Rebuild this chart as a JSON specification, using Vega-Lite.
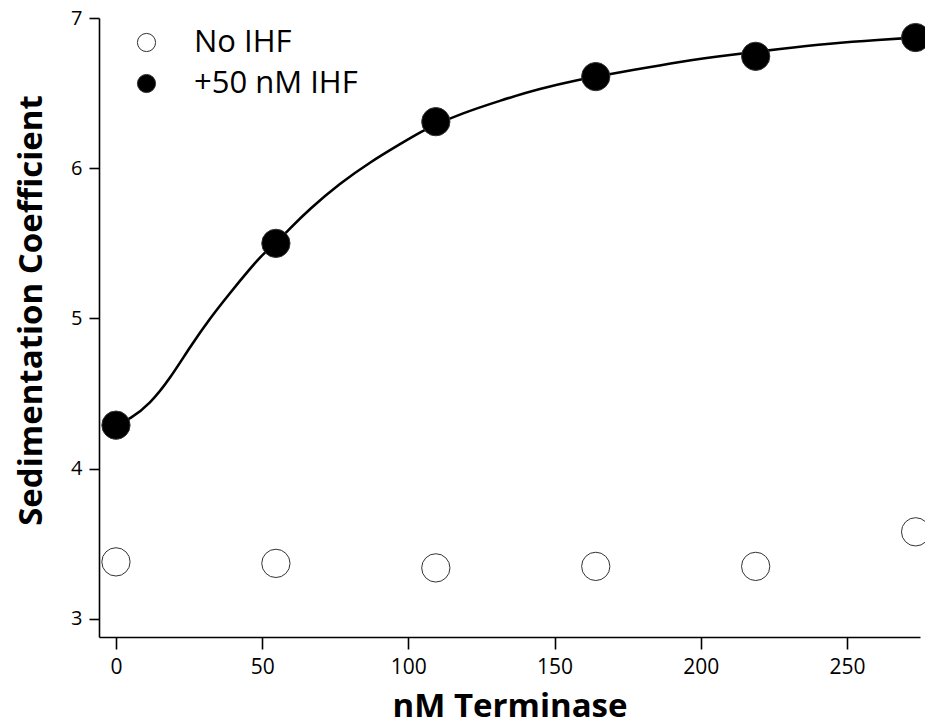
{
  "$schema": "https://vega.github.io/schema/vega-lite/v6.json",
  "autosize": {"type": "none"},
  "padding": {"left": 99, "top": 18, "right": 5, "bottom": 90},
  "width": 821,
  "height": 619,
  "background": "white",
  "config": {
    "view": {"stroke": null},
    "font": "Open Sans",
    "axis": {
      "grid": false,
      "domainColor": "black",
      "domainWidth": 1.6,
      "tickColor": "black",
      "tickWidth": 1.6,
      "tickSize": 12,
      "labelFont": "Open Sans",
      "labelFontSize": 20,
      "labelColor": "black",
      "titleFont": "Open Sans",
      "titleFontWeight": "bold",
      "titleFontSize": 33,
      "titleColor": "black"
    }
  },
  "datasets": {
    "points": [
      {"terminase": 0, "s": 3.38, "series": "No IHF"},
      {"terminase": 54.7, "s": 3.37, "series": "No IHF"},
      {"terminase": 109.4, "s": 3.34, "series": "No IHF"},
      {"terminase": 164.1, "s": 3.35, "series": "No IHF"},
      {"terminase": 218.8, "s": 3.35, "series": "No IHF"},
      {"terminase": 273.5, "s": 3.58, "series": "No IHF"},
      {"terminase": 0, "s": 4.29, "series": "+50 nM IHF"},
      {"terminase": 54.7, "s": 5.50, "series": "+50 nM IHF"},
      {"terminase": 109.4, "s": 6.31, "series": "+50 nM IHF"},
      {"terminase": 164.1, "s": 6.61, "series": "+50 nM IHF"},
      {"terminase": 218.8, "s": 6.745, "series": "+50 nM IHF"},
      {"terminase": 273.5, "s": 6.87, "series": "+50 nM IHF"}
    ],
    "fit": [
      {"terminase": 0, "s": 4.29},
      {"terminase": 4.8, "s": 4.33},
      {"terminase": 11.6, "s": 4.43},
      {"terminase": 18.5, "s": 4.60},
      {"terminase": 25.3, "s": 4.81},
      {"terminase": 32.1, "s": 5.00},
      {"terminase": 39.0, "s": 5.17},
      {"terminase": 45.8, "s": 5.33},
      {"terminase": 50.3, "s": 5.43},
      {"terminase": 55.1, "s": 5.51},
      {"terminase": 58.5, "s": 5.58},
      {"terminase": 66.3, "s": 5.73},
      {"terminase": 76.6, "s": 5.90},
      {"terminase": 86.9, "s": 6.04},
      {"terminase": 97.1, "s": 6.16},
      {"terminase": 105.0, "s": 6.25},
      {"terminase": 109.4, "s": 6.29},
      {"terminase": 117.6, "s": 6.36},
      {"terminase": 131.3, "s": 6.45},
      {"terminase": 145.0, "s": 6.53},
      {"terminase": 158.7, "s": 6.59},
      {"terminase": 164.5, "s": 6.61},
      {"terminase": 175.8, "s": 6.65},
      {"terminase": 192.9, "s": 6.71},
      {"terminase": 210.0, "s": 6.755},
      {"terminase": 227.1, "s": 6.795},
      {"terminase": 244.2, "s": 6.83},
      {"terminase": 261.3, "s": 6.855},
      {"terminase": 273.6, "s": 6.87}
    ]
  },
  "layer": [
    {
      "data": {"name": "fit"},
      "mark": {"type": "line", "color": "black", "strokeWidth": 2.6, "interpolate": "basis"},
      "encoding": {
        "x": {
          "field": "terminase",
          "type": "quantitative",
          "scale": {"domain": [-5.8, 275], "nice": false, "zero": false},
          "axis": {
            "values": [0, 50, 100, 150, 200, 250],
            "format": "d",
            "title": "nM Terminase",
            "labelFontSize": 21,
            "labelPadding": 7,
            "titleBaseline": "alphabetic",
            "titleY": 79
          }
        },
        "y": {
          "field": "s",
          "type": "quantitative",
          "scale": {"domain": [2.88, 7], "nice": false, "zero": false},
          "axis": {
            "values": [3, 4, 5, 6, 7],
            "format": "d",
            "title": "Sedimentation Coefficient",
            "tickSize": 10,
            "labelFontSize": 20,
            "labelPadding": 7,
            "titleBaseline": "alphabetic",
            "titleX": -58,
            "titleY": 292
          }
        }
      }
    },
    {
      "data": {"name": "points"},
      "mark": {"type": "point", "shape": "circle", "filled": true, "size": 800, "stroke": "#333", "strokeWidth": 1, "opacity": 1},
      "encoding": {
        "x": {"field": "terminase", "type": "quantitative"},
        "y": {"field": "s", "type": "quantitative"},
        "fill": {
          "field": "series",
          "type": "nominal",
          "scale": {"domain": ["No IHF", "+50 nM IHF"], "range": ["white", "black"]},
          "legend": {
            "title": null,
            "orient": "none",
            "legendX": 32,
            "legendY": 9,
            "symbolType": "circle",
            "symbolSize": 330,
            "symbolStrokeColor": "#333",
            "symbolStrokeWidth": 1,
            "symbolOpacity": 1,
            "labelFont": "Open Sans",
            "labelFontSize": 31,
            "labelColor": "black",
            "labelOffset": 32,
            "rowPadding": 9,
            "labelLimit": 400
          }
        }
      }
    }
  ]
}
